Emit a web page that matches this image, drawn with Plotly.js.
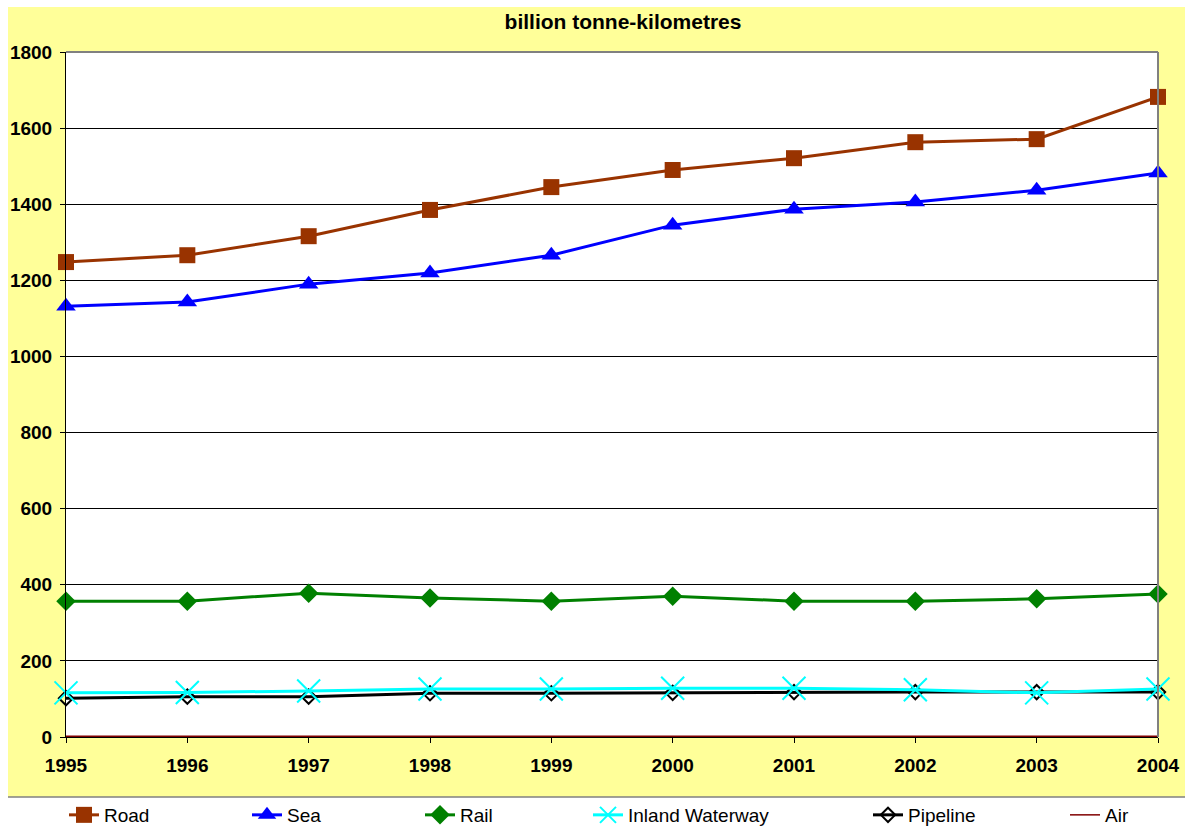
<!DOCTYPE html>
<html>
<head>
<meta charset="utf-8">
<script src="https://cdn.plot.ly/plotly-3.0.1.min.js"></script>
<style>html,body{margin:0;padding:0;background:#fff;}#chart{width:1185px;height:827px;}</style>
</head>
<body>
<div id="chart"></div>
<script>
const years = [1995, 1996, 1997, 1998, 1999, 2000, 2001, 2002, 2003, 2004];
const road = [1248, 1266, 1316, 1385, 1445, 1490, 1521, 1563, 1571, 1682];
const sea = [1132, 1143, 1190, 1219, 1266, 1345, 1387, 1406, 1437, 1482];
const rail = [357, 357, 378, 365, 357, 370, 357, 357, 363, 376];
const inland = [116, 117, 121, 126, 126, 128, 128, 124, 116, 126];
const pipeline = [102, 106, 106, 115, 115, 116, 118, 118, 118, 118];
const air = [2, 2, 2, 2, 2, 2, 2, 2, 2, 2];
const yTicks = [0, 200, 400, 600, 800, 1000, 1200, 1400, 1600, 1800];

const L = 66, R = 1158, T = 52, B = 737;
const px = p => (p - L) / (R - L);
const py = p => (B - p) / (B - T);
const legY = py(815);

function mk(name, y, color, symbol, msize, lw, legendId, extraMarker) {
  return {
    x: years, y: y, name: name, type: 'scatter', mode: symbol ? 'lines+markers' : 'lines',
    line: {color: color, width: lw},
    marker: Object.assign({symbol: symbol || 'circle', size: msize, color: color}, extraMarker || {}),
    cliponaxis: false, legend: legendId
  };
}

const traces = [
  mk('Air', air, '#800000', null, 0, 1.5, 'legend6'),
  mk('Pipeline', pipeline, '#000000', 'diamond-open', 11, 3, 'legend5', {line: {color: '#000', width: 2}}),
  mk('Inland Waterway', inland, '#00FFFF', 'x-thin-open', 23, 3, 'legend4', {line: {color: '#00FFFF', width: 2}}),
  mk('Rail', rail, '#008000', 'diamond', 15, 3, 'legend3'),
  mk('Sea', sea, '#0000FF', 'triangle-up', 17, 3, 'legend2'),
  mk('Road', road, '#993300', 'square', 16, 3, 'legend')
];

const legFont = {family: 'Liberation Sans, Arial, sans-serif', size: 19, color: '#000'};
function leg(textX) {
  return {x: px(textX - 40), y: legY, xanchor: 'left', yanchor: 'middle', orientation: 'h',
          bgcolor: 'rgba(0,0,0,0)', font: legFont, itemwidth: 30, tracegroupgap: 0};
}

const layout = {
  width: 1185, height: 827,
  margin: {l: L, r: 1185 - R, t: T, b: 827 - B, pad: 0, autoexpand: false},
  paper_bgcolor: '#FFFFFF',
  plot_bgcolor: 'rgba(0,0,0,0)',
  font: {family: 'Liberation Sans, Arial, sans-serif', color: '#000'},
  title: {text: '<b>billion tonne-kilometres</b>', x: px(623), xanchor: 'center', xref: 'paper',
          y: 1 - 22 / 827, yanchor: 'middle',
          font: {size: 21, family: 'Liberation Sans, Arial, sans-serif', color: '#000'}},
  xaxis: {
    range: [1995, 2004], tickvals: years, ticktext: years.map(v => '<b>' + v + '</b>'),
    showgrid: false, zeroline: false, showline: true, linecolor: '#000', linewidth: 1,
    ticks: 'outside', ticklen: 5, tickcolor: '#000', tickfont: {size: 19}, ticklabelstandoff: 6, fixedrange: true
  },
  yaxis: {
    range: [0, 1800], tickvals: yTicks, ticktext: yTicks.map(v => '<b>' + v + '</b>'),
    showgrid: true, gridcolor: '#000', gridwidth: 1, zeroline: false,
    showline: true, linecolor: '#000', linewidth: 1,
    ticks: 'outside', ticklen: 5, tickcolor: '#000', tickfont: {size: 19}, ticklabelstandoff: 4, fixedrange: true
  },
  showlegend: true,
  legend: leg(104), legend2: leg(287), legend3: leg(460), legend4: leg(628), legend5: leg(908), legend6: leg(1105),
  shapes: [
    {type: 'rect', xref: 'paper', yref: 'paper', x0: px(8), x1: px(1185), y0: py(797), y1: py(7),
     fillcolor: '#FFFF99', line: {width: 0}, layer: 'below'},
    {type: 'line', xref: 'paper', yref: 'paper', x0: px(8), x1: px(1185), y0: py(797), y1: py(797),
     line: {color: '#808080', width: 1.5}, layer: 'below'},
    {type: 'rect', xref: 'paper', yref: 'paper', x0: 0, x1: 1, y0: 0, y1: 1,
     fillcolor: '#FFFFFF', line: {width: 0}, layer: 'below'},
    {type: 'line', xref: 'paper', yref: 'paper', x0: 0, x1: 1, y0: 1, y1: 1, line: {color: '#808080', width: 2}, layer: 'above'},
    {type: 'line', xref: 'paper', yref: 'paper', x0: 1, x1: 1, y0: 0, y1: 1, line: {color: '#808080', width: 2}, layer: 'above'}
  ]
};

Plotly.newPlot('chart', traces, layout, {displayModeBar: false, staticPlot: true});
</script>
</body>
</html>
